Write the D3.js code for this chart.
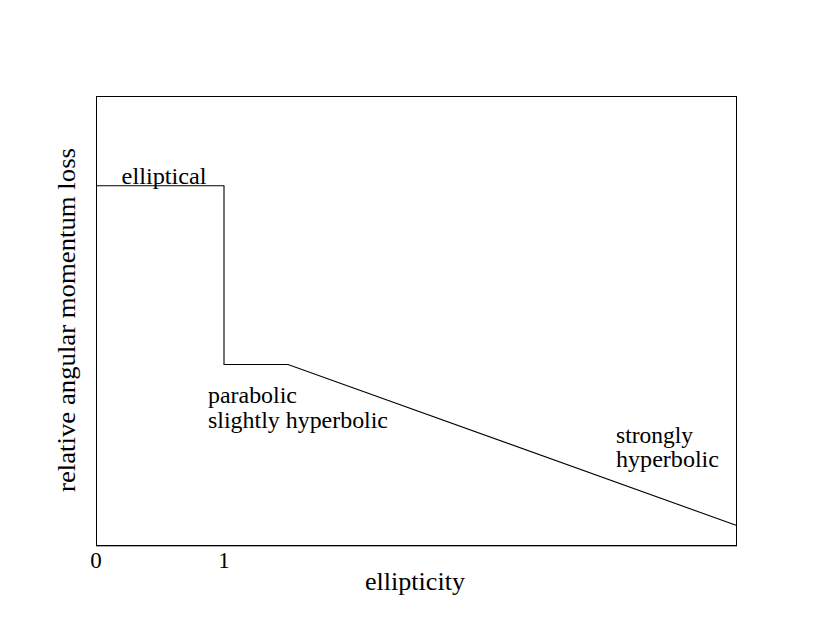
<!DOCTYPE html>
<html>
<head>
<meta charset="utf-8">
<script src="https://cdn.jsdelivr.net/npm/d3@7"></script>
<style>
  body { margin: 0; background: #fff; }
  text { font-family: 'Liberation Serif', 'Times New Roman', Times, serif; fill: #000; }
</style>
</head>
<body>
<div id="chart"></div>
<script>
const ellipticity = [0, 1, 1, 1.5, 5];
const momentumLoss = [0.8, 0.8, 0.402, 0.402, 0.044];
const xTickValues = [0, 1];
const xTickLabels = ['0', '1'];
const minorTicks = [0.25, 0.75, 1.25, 1.75, 2.25, 2.75, 3.25, 3.75, 4.25, 4.75];
const regionLabels = [
    { lines: ['elliptical'], x: 0.2, y: 0.805, widths: [85] },
    { lines: ['parabolic', 'slightly hyperbolic'], x: 0.875, y: 0.316, widths: [89, 180] },
    { lines: ['strongly', 'hyperbolic'], x: 4.0625, y: 0.228, widths: [77, 103] }
];

const svgWidth = 830;
const svgHeight = 641;
const margin = { top: 96, right: 94, bottom: 96, left: 96 };

const svg = d3.select('#chart')
              .append('svg')
              .attr('width', svgWidth)
              .attr('height', svgHeight);

const x = d3.scaleLinear()
            .domain([0, 5])
            .range([margin.left, svgWidth - margin.right]);

const y = d3.scaleLinear()
            .domain([0, 1])
            .range([svgHeight - margin.bottom, margin.top]);

// faint minor ticks along the bottom
svg.append('g')
   .selectAll('line')
   .data(minorTicks)
   .enter().append('line')
   .attr('x1', d => x(d)).attr('x2', d => x(d))
   .attr('y1', y(0) - 2).attr('y2', y(0))
   .attr('stroke', '#e0e0e0');

svg.append('rect')
   .attr('x', x(0) + 0.5)
   .attr('y', y(1) + 0.5)
   .attr('width', x(5) - x(0))
   .attr('height', y(0) - y(1))
   .attr('fill', 'none')
   .attr('stroke', '#000')
   .attr('stroke-width', 1);

svg.append('line')
   .attr('x1', x(0)).attr('x2', x(5) + 1)
   .attr('y1', y(0) + 1.5).attr('y2', y(0) + 1.5)
   .attr('stroke', '#aaa');

const points = ellipticity.map((e, i) => [e, momentumLoss[i]]);

svg.append('path')
   .datum(points)
   .attr('fill', 'none')
   .attr('stroke', '#000')
   .attr('stroke-width', 1.1)
   .attr('d', d3.line().x(d => x(d[0])).y(d => y(d[1])));

svg.append('g')
   .selectAll('text')
   .data(xTickValues)
   .enter().append('text')
   .attr('x', d => x(d))
   .attr('y', y(0) + 23)
   .attr('text-anchor', 'middle')
   .style('font-size', '23px')
   .text((d, i) => xTickLabels[i]);

svg.append('text')
   .attr('x', 415)
   .attr('y', 590)
   .attr('text-anchor', 'middle')
   .attr('textLength', 100)
   .attr('lengthAdjust', 'spacingAndGlyphs')
   .style('font-size', '26px')
   .text('ellipticity');

svg.append('text')
   .attr('transform', 'translate(75,320) rotate(-90)')
   .attr('text-anchor', 'middle')
   .attr('textLength', 344)
   .attr('lengthAdjust', 'spacingAndGlyphs')
   .style('font-size', '26px')
   .text('relative angular momentum loss');

regionLabels.forEach(lbl => {
    lbl.lines.forEach((line, i) => {
        svg.append('text')
           .attr('x', x(lbl.x))
           .attr('y', y(lbl.y) + i * 24.5)
           .attr('textLength', lbl.widths[i])
           .attr('lengthAdjust', 'spacingAndGlyphs')
           .style('font-size', '24px')
           .text(line);
    });
});
</script>
</body>
</html>
